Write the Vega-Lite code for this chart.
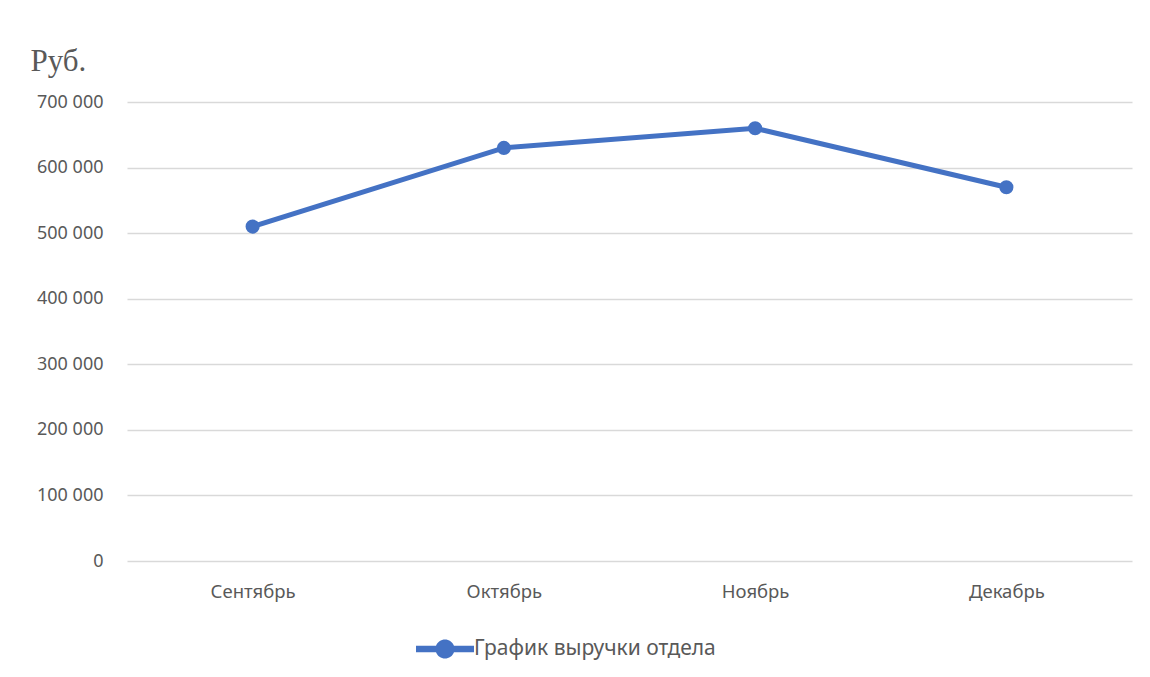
{
  "$schema": "https://vega.github.io/schema/vega-lite/v6.json",
  "width": 1005,
  "height": 459,
  "autosize": {"type": "none"},
  "padding": {"left": 127, "top": 102, "right": 18, "bottom": 116},
  "background": "white",
  "config": {
    "view": {"stroke": null},
    "locale": {"number": {"decimal": ",", "thousands": " ", "grouping": [3], "currency": ["", ""]}},
    "font": "Noto Sans"
  },
  "data": {
    "values": [
      {"month": "Сентябрь", "value": 510000, "series": "График выручки отдела"},
      {"month": "Октябрь", "value": 630000, "series": "График выручки отдела"},
      {"month": "Ноябрь", "value": 660000, "series": "График выручки отдела"},
      {"month": "Декабрь", "value": 570000, "series": "График выручки отдела"}
    ]
  },
  "encoding": {
    "x": {
      "field": "month", "type": "ordinal", "sort": null,
      "scale": {"type": "point", "padding": 0.5},
      "axis": {"title": null, "labelAngle": 0, "domain": false, "ticks": false, "grid": false,
               "labelFont": "Noto Sans", "labelFontSize": 18.5, "labelColor": "#595959", "labelPadding": 21}
    },
    "y": {
      "field": "value", "type": "quantitative",
      "scale": {"domain": [0, 700000], "nice": false},
      "axis": {"values": [0, 100000, 200000, 300000, 400000, 500000, 600000, 700000],
               "format": ",d", "domain": false, "ticks": false,
               "gridColor": "#d9d9d9", "gridWidth": 1.5,
               "labelFont": "Noto Sans", "labelFontSize": 18, "labelColor": "#595959", "labelPadding": 24,
               "title": "Руб.", "titleAngle": 0, "titleFont": "Liberation Serif", "titleFontSize": 31,
               "titleFontWeight": "normal", "titleColor": "#595959", "titleAlign": "left",
               "titleBaseline": "alphabetic", "titleX": -97, "titleY": -32}
    },
    "color": {
      "field": "series", "type": "nominal",
      "scale": {"range": ["#4472c4"]},
      "legend": {"title": null, "orient": "none", "direction": "horizontal",
                 "legendX": 289, "legendY": 518,
                 "symbolType": "M-1,-0.11L-0.31,-0.11A0.33,0.33 0 0,1 0.31,-0.11L1,-0.11L1,0.11L0.31,0.11A0.33,0.33 0 0,1 -0.31,0.11L-1,0.11Z",
                 "symbolSize": 3364, "symbolStrokeWidth": 0, "symbolFillColor": "#4472c4",
                 "labelFont": "Noto Sans", "labelFontSize": 21, "labelColor": "#595959", "labelOffset": 0,
                 "labelLimit": 500}
    }
  },
  "layer": [
    {"mark": {"type": "line", "strokeWidth": 5, "strokeCap": "round"}},
    {"mark": {"type": "point", "filled": true, "size": 200, "opacity": 1}}
  ]
}
